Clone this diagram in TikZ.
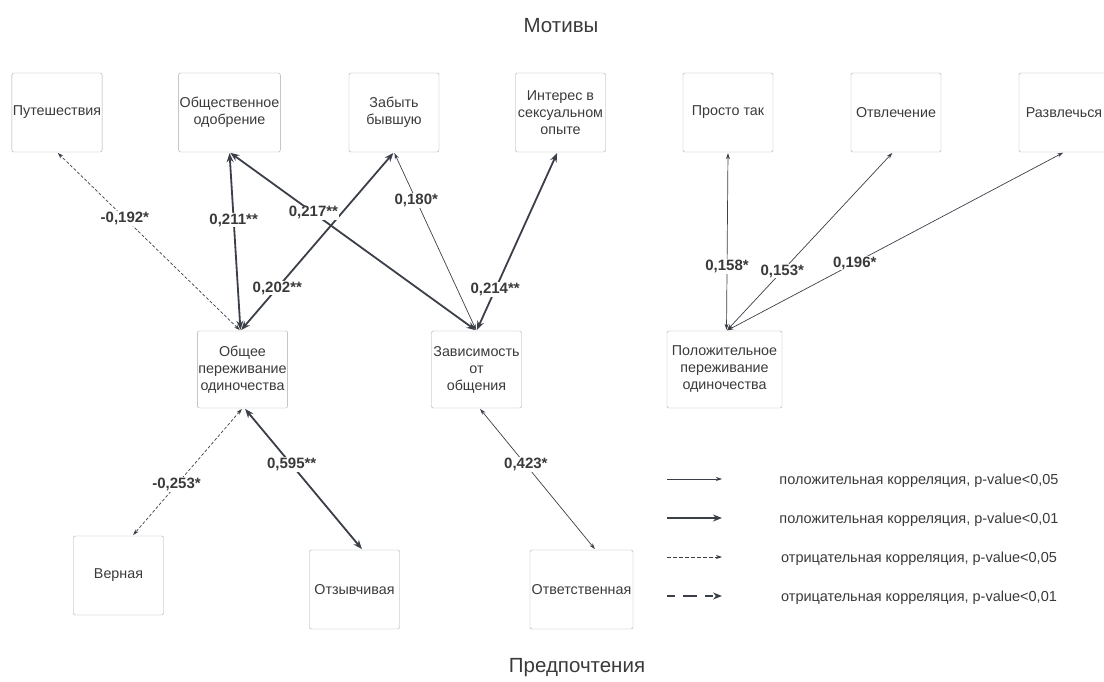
\documentclass[tikz,border=0pt]{standalone}
\usepackage{fontspec}
\setmainfont{Liberation Sans}
\usepackage{xcolor}
\usepackage{tikz}
\usetikzlibrary{arrows.meta}
\definecolor{linegray}{HTML}{3A3F48}
\definecolor{boxgray}{HTML}{A8A8A8}
\definecolor{textgray}{HTML}{3A3A3A}
\newcommand{\corr}[5]{\draw[#1] (#2) -- node[lbl,pos=#4] {#5} (#3)}

\begin{document}
\begin{tikzpicture}[x=1pt,y=-1pt,
    box/.style={draw=boxgray,rounded corners=2pt,minimum width=90pt,minimum height=79pt,
      align=center,inner sep=1pt,text=textgray,font=\fontsize{14.3}{17}\selectfont},
    lbl/.style={fill=white,inner sep=1pt,text=textgray,font=\bfseries\fontsize{15}{17}\selectfont},
    weak/.style={linegray,line width=.7pt,{Stealth[length=6pt,width=4pt]}-{Stealth[length=6pt,width=4pt]},shorten <=1pt,shorten >=1pt},
    strong/.style={linegray,line width=1.8pt,{Stealth[length=9pt,width=7pt]}-{Stealth[length=9pt,width=7pt]},shorten <=1pt,shorten >=1pt},
    weakneg/.style={weak,dash pattern=on 3pt off 2pt},
    legtext/.style={text=textgray,font=\fontsize{14.5}{17}\selectfont},
    title/.style={text=textgray,font=\fontsize{20.5}{23}\selectfont}]
    \useasboundingbox (0,0) rectangle (1104,682);

    \node[title] (motives) at (561,26) {Мотивы};
    \node[title] (prefs) at (577,668) {Предпочтения};

    % motives
    \node[box] (travel) at (57,112.5) {Путешествия};
    \node[box,minimum width=99pt] (approval) at (229.5,112.5) {Общественное\\одобрение};
    \node[box] (forget) at (394,112.5) {Забыть\\бывшую};
    \node[box] (sexual) at (560.5,112.5) {Интерес в\\сексуальном\\опыте};
    \node[box] (justso) at (728,112.5) {Просто так};
    \node[box] (distract) at (896,112.5) {Отвлечение};
    \node[box] (fun) at (1064,112.5) {Развлечься};

    % loneliness
    \node[box,minimum height=77pt] (general) at (242.5,369.5) {Общее\\переживание\\одиночества};
    \node[box,minimum height=77pt] (depend) at (476.5,369.5) {Зависимость\\от\\общения};
    \node[box,minimum width=115pt,minimum height=77pt] (positive) at (724.5,369.5) {Положительное\\переживание\\одиночества};

    % preferences
    \node[box] (loyal) at (118.5,575.5) {Верная};
    \node[box] (caring) at (354.5,589.5) {Отзывчивая};
    \node[box,minimum width=103pt] (reliable) at (581.5,589.5) {Ответственная};

    \corr{weakneg}{[xshift=-2pt]general.north}{travel.south}{.63}{-0,192*};
    \corr{strong}{[xshift=-2pt]general.north}{approval.south}{.62}{0,211**};
    \corr{strong}{[xshift=-2pt]general.north}{forget.south}{.24}{0,202**};
    \corr{strong}{approval.south}{depend.north}{.34}{0,217**};
    \corr{weak}{depend.north}{forget.south}{.73}{0,180*};
    \corr{strong}{depend.north}{[xshift=-3pt]sexual.south}{.23}{0,214**};
    \corr{weak}{[xshift=2pt]positive.north}{justso.south}{.36}{0,158*};
    \corr{weak}{[xshift=2pt]positive.north}{[xshift=-3pt]distract.south}{.335}{0,153*};
    \corr{weak}{[xshift=2pt]positive.north}{fun.south}{.38}{0,196*};
    \corr{weakneg}{general.south}{[xshift=14pt]loyal.north}{.6}{-0,253*};
    \corr{strong}{[xshift=2pt]general.south}{[xshift=8pt]caring.north}{.4}{0,595**};
    \corr{weak}{[xshift=3pt]depend.south}{[xshift=14pt]reliable.north}{.4}{0,423*};

    % legend
    \coordinate (w1) at (667,479); \coordinate (w2) at (722,479);
    \coordinate (s1) at (667,518); \coordinate (s2) at (722,518);
    \coordinate (n1) at (667,557); \coordinate (n2) at (722,557);
    \coordinate (d1) at (667,596); \coordinate (d2) at (722,596);
    \draw[linegray,line width=.7pt,-{Stealth[length=6pt,width=4pt]}] (w1) -- (w2);
    \draw[linegray,line width=1.8pt,-{Stealth[length=9pt,width=7pt]}] (s1) -- (s2);
    \draw[linegray,line width=.7pt,dash pattern=on 4pt off 2pt,-{Stealth[length=6pt,width=4pt]}] (n1) -- (n2);
    \draw[linegray,line width=1.8pt,dash pattern=on 8pt off 8pt on 14pt off 8pt,-{Stealth[length=9pt,width=7pt]}] (d1) -- (d2);
    \node[legtext] (wt) at (919,481) {положительная корреляция, p-value<0,05};
    \node[legtext] (st) at (919,520) {положительная корреляция, p-value<0,01};
    \node[legtext] (nt) at (919,559) {отрицательная корреляция, p-value<0,05};
    \node[legtext] (dt) at (919,598) {отрицательная корреляция, p-value<0,01};
\end{tikzpicture}
\end{document}
